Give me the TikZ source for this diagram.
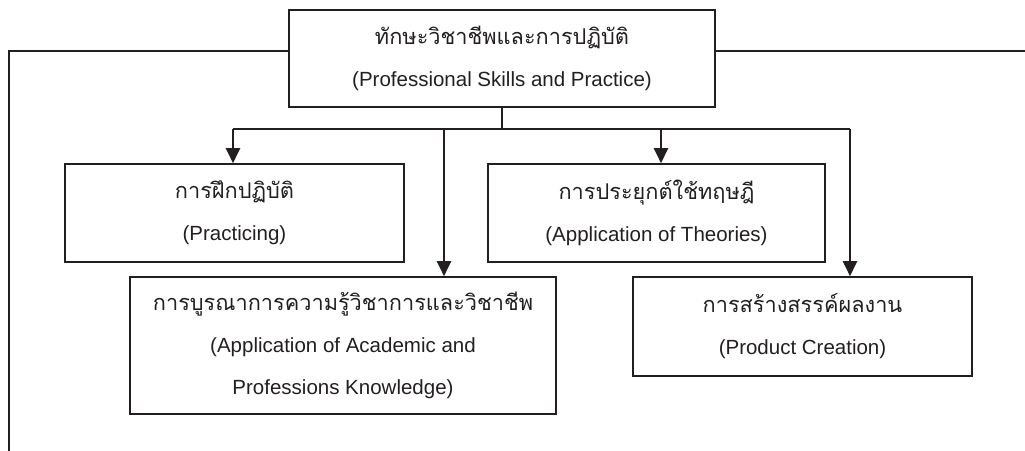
\documentclass[tikz,border=0pt]{standalone}
\usepackage{fontspec}
\setmainfont{Liberation Sans}
\newfontfamily\thai[Script=Thai,Scale=1.06]{Loma}
\usetikzlibrary{arrows.meta}
\definecolor{ink}{RGB}{35,31,32}
\tikzset{
  box/.style={draw=ink, line width=1.6pt, inner sep=0pt, align=center, text=ink,
    font=\fontsize{20.5}{42}\selectfont},
  link/.style={draw=ink, line width=1.5pt},
  arr/.style={draw=ink, line width=2pt, -{Triangle[width=14pt,length=15pt]}},
}
\begin{document}
\begin{tikzpicture}[x=1pt,y=-1pt]
\useasboundingbox (0,0) rectangle (1025,450);
\node[box, minimum width=426pt, minimum height=97pt] (top) at (502,58.5)
  {{\thai ทักษะวิชาชีพและการปฏิบัติ}\\(Professional Skills and Practice)};
\node[box, minimum width=339pt, minimum height=98pt] (prac) at (234.5,213)
  {{\thai การฝึกปฏิบัติ}\\(Practicing)};
\node[box, minimum width=337pt, minimum height=98pt] (theo) at (656.5,213)
  {{\thai การประยุกต์ใช้ทฤษฎี}\\(Application of Theories)};
\node[box, minimum width=426pt, minimum height=137pt] (integ) at (343,345.5)
  {{\thai การบูรณาการความรู้วิชาการและวิชาชีพ}\\(Application of Academic and\\Professions Knowledge)};
\node[box, minimum width=339pt, minimum height=99pt] (prod) at (802.5,326.5)
  {{\thai การสร้างสรรค์ผลงาน}\\(Product Creation)};
% bus
\coordinate (bus) at (502,129);
\coordinate (bL) at (233,129);
\coordinate (bI) at (444,129);
\coordinate (bT) at (661,129);
\coordinate (bR) at (850,129);
\draw[link] (top.south) -- (bus);
\draw[link] (bL) -- (bR);
\draw[arr] (bL) -- (bL |- prac.north);
\draw[arr] (bI) -- (bI |- integ.north);
\draw[arr] (bT) -- (bT |- theo.north);
\draw[arr] (bR) -- (bR |- prod.north);
% side lines
\coordinate (lh) at (0,51);
\coordinate (lc) at (9,51);
\coordinate (lend) at (9,452);
\coordinate (rend) at (1027,51);
\draw[link] (top.west |- lh) -- (lc) -- (lend);
\draw[link] (top.east |- lh) -- (rend);
\end{tikzpicture}
\end{document}
